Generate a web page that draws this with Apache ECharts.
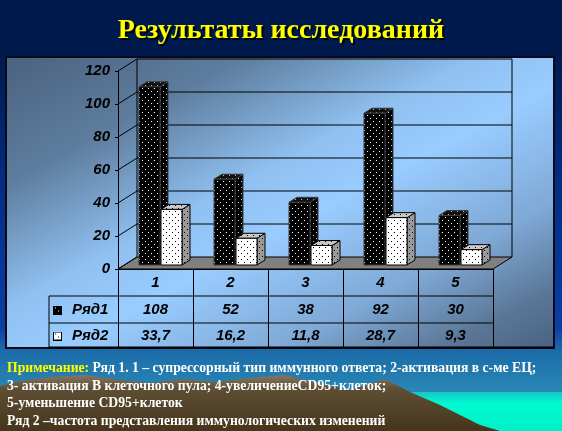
<!DOCTYPE html>
<html><head><meta charset="utf-8">
<script src="https://cdn.jsdelivr.net/npm/echarts@6/dist/echarts.min.js"></script>
<style>html,body{margin:0;padding:0;background:#001a4e}#c{width:562px;height:431px}</style>
</head><body><div id="c"></div>
<script>
// ---- data ----
const TITLE = 'Результаты исследований';
const CATEGORIES = ['1', '2', '3', '4', '5'];
const SERIES_NAMES = ['Ряд1', 'Ряд2'];
const SERIES1 = [108, 52, 38, 92, 30];
const SERIES2 = [33.7, 16.2, 11.8, 28.7, 9.3];
const Y_TICKS = [0, 20, 40, 60, 80, 100, 120];
const NOTE_LABEL = 'Примечание:';
const NOTE_LINES = [
  ' Ряд 1. 1 – супрессорный тип иммунного ответа; 2-активация в с-ме ЕЦ;',
  '3- активация В клеточного пула; 4-увеличениеCD95+клеток;',
  '5-уменьшение CD95+клеток',
  'Ряд 2 –частота представления иммунологических изменений'
];

// ---- layout ----
const GX = 118, GY = 71, GW = 375, GH = 198, W = 562, H = 431;
const WALL_DX = 19, WALL_DY = 12;
const BAR_DX = 5, BAR_DY = 4, BAR_W = 21, BAR_GAP = 1, BDX = 8, BDY = 5;
const ROW_Y = [309.5, 335.5];
const FONT = 'italic bold 15px "Liberation Sans", Arial, sans-serif';
const NOTE_FONT = 'bold 13.7px "Liberation Serif", serif';

function pattern(bg, dot, size, pts) {
  const c = document.createElement('canvas');
  c.width = c.height = size;
  const g = c.getContext('2d');
  g.fillStyle = bg; g.fillRect(0, 0, size, size);
  g.fillStyle = dot;
  pts.forEach(p => g.fillRect(p[0], p[1], 1, 1));
  return { image: c, repeat: 'repeat' };
}
const PTS = [[1, 1], [4, 4]];
const STYLES = [
  { front: pattern('#000', '#fff', 6, PTS), side: pattern('#000', '#ddd', 6, PTS), top: pattern('#111', '#bbb', 6, PTS), stroke: '#3c3c3c' },
  { front: pattern('#fff', '#000', 6, PTS), side: pattern('#9a9a9a', '#000', 6, PTS), top: pattern('#c8c8c8', '#000', 6, PTS), stroke: '#000' }
];
function iconURL(bg, dot) {
  const c = document.createElement('canvas'); c.width = c.height = 9;
  const g = c.getContext('2d');
  g.fillStyle = '#000'; g.fillRect(0, 0, 9, 9);
  g.fillStyle = bg; g.fillRect(1, 1, 7, 7);
  g.fillStyle = dot; g.fillRect(5, 5, 1, 1); g.fillRect(2, 2, 1, 1);
  return 'image://' + c.toDataURL();
}
const ICONS = [iconURL('#000', '#fff'), iconURL('#fff', '#000')];
const fmt = v => String(v).replace('.', ',');

function makeBarRender(k) {
  return function (params, api) {
    const i = api.value(0), v = api.value(1);
    const base = api.coord([i, 0]), top = api.coord([i, v]);
    const cx = base[0] + BAR_DX, by = base[1] - BAR_DY, ty = top[1] - BAR_DY;
    const x0 = k === 0 ? cx - BAR_W - BAR_GAP / 2 : cx + BAR_GAP / 2;
    const x1 = x0 + BAR_W;
    const st = STYLES[k];
    return {
      type: 'group',
      children: [
        { type: 'polygon', shape: { points: [[x1, by], [x1, ty], [x1 + BDX, ty - BDY], [x1 + BDX, by - BDY]] }, style: { fill: st.side, stroke: st.stroke, lineWidth: 1 } },
        { type: 'polygon', shape: { points: [[x0, ty], [x0 + BDX, ty - BDY], [x1 + BDX, ty - BDY], [x1, ty]] }, style: { fill: st.top, stroke: st.stroke, lineWidth: 1 } },
        { type: 'rect', shape: { x: x0, y: ty, width: BAR_W, height: by - ty }, style: { fill: st.front, stroke: st.stroke, lineWidth: 1 } },
        { type: 'text', style: { text: fmt(v), x: base[0], y: ROW_Y[k], align: 'center', verticalAlign: 'middle', font: FONT, fill: '#000' } }
      ]
    };
  };
}

function renderFrame(params, api) {
  const t = api.value(1), cs = params.coordSys;
  const y = api.coord([0, t])[1];
  const gx = cs.x, gr = cs.x + cs.width;
  const ls = { stroke: '#000', lineWidth: 1 };
  const ch = [];
  if (t === Y_TICKS[0]) {
    ch.push({ type: 'polygon', shape: { points: [[gx, y], [gr, y], [gr + WALL_DX, y - WALL_DY], [gx + WALL_DX, y - WALL_DY]] }, style: { fill: '#808080', stroke: '#000', lineWidth: 1 } });
  } else {
    ch.push({ type: 'line', shape: { x1: gx + WALL_DX, y1: y - WALL_DY, x2: gr + WALL_DX, y2: y - WALL_DY }, style: ls });
  }
  ch.push({ type: 'line', shape: { x1: gx, y1: y, x2: gx + WALL_DX, y2: y - WALL_DY }, style: ls });
  if (t === Y_TICKS[Y_TICKS.length - 1]) {
    const y0 = api.coord([0, Y_TICKS[0]])[1] - WALL_DY;
    ch.push({ type: 'line', shape: { x1: gx + WALL_DX, y1: y - WALL_DY, x2: gx + WALL_DX, y2: y0 }, style: ls });
    ch.push({ type: 'line', shape: { x1: gr + WALL_DX, y1: y - WALL_DY, x2: gr + WALL_DX, y2: y0 }, style: ls });
  }
  return { type: 'group', children: ch };
}

const LG = echarts.graphic.LinearGradient;
const bgGrad = new LG(0, 0, 0, 1, [
  { offset: 0, color: '#001a4e' }, { offset: 0.13, color: '#001a4e' },
  { offset: 0.4, color: '#032c80' }, { offset: 0.76, color: '#0b3ea6' },
  { offset: 0.81, color: '#1b6aa8' }, { offset: 0.92, color: '#2a8cb6' }, { offset: 1, color: '#2f98bc' }
]);
const seaGrad = new LG(0, 0, 0, 1, [
  { offset: 0, color: '#14c6c8' }, { offset: 0.3, color: '#00fbd0' }, { offset: 1, color: '#00f0c8' }
]);
const mountGrad = new LG(0, 0, 0, 1, [
  { offset: 0, color: '#867660' }, { offset: 0.25, color: '#5e4e34' }, { offset: 1, color: '#45351c' }
]);
const boxGrad = new LG(159, -25, 400, 430, [
  { offset: 0, color: '#4a627e' }, { offset: 0.22, color: '#5e7d9e' },
  { offset: 0.43, color: '#8fc0f0' }, { offset: 0.55, color: '#99ccff' },
  { offset: 0.75, color: '#7fa9d6' }, { offset: 0.9, color: '#5a7696' }, { offset: 1, color: '#4a6282' }
], true);
const MOUNTAIN = [[0, 386], [20, 381], [50, 377], [85, 375], [120, 380], [150, 383], [185, 379], [215, 382], [250, 378], [285, 375], [320, 384], [350, 390], [385, 379], [410, 392], [440, 405], [480, 425], [500, 431], [0, 431]];
const tl = { stroke: '#000', lineWidth: 1 };

const chart = echarts.init(document.getElementById('c'));
chart.setOption({
  animation: false,
  title: {
    text: TITLE, left: 'center', top: 12,
    textStyle: { color: '#ffff00', fontFamily: '"Liberation Serif", serif', fontWeight: 'bold', fontSize: 28, textShadowColor: '#000', textShadowOffsetX: 2, textShadowOffsetY: 2, textShadowBlur: 1 }
  },
  legend: {
    orient: 'vertical', left: 53, top: 302, padding: 0, itemWidth: 9, itemHeight: 9, itemGap: 10, selectedMode: false,
    data: SERIES_NAMES.map((n, k) => ({ name: n, icon: ICONS[k] })),
    textStyle: { fontFamily: '"Liberation Sans", Arial, sans-serif', fontSize: 15, fontWeight: 'bold', fontStyle: 'italic', color: '#000', lineHeight: 16, padding: [0, 0, 0, 5] }
  },
  grid: { left: GX, top: GY, width: GW, height: GH, containLabel: false },
  xAxis: {
    type: 'category', data: CATEGORIES,
    axisLine: { show: true, lineStyle: { color: '#000', width: 1 } },
    axisTick: { show: true, length: 79, lineStyle: { color: '#000', width: 1 } },
    axisLabel: { margin: 6, color: '#000', fontFamily: '"Liberation Sans", Arial, sans-serif', fontSize: 15, fontWeight: 'bold', fontStyle: 'italic' },
    splitLine: { show: false }
  },
  yAxis: {
    type: 'value', min: 0, max: 120, interval: 20,
    axisLine: { show: true, lineStyle: { color: '#000', width: 1 } },
    axisTick: { show: true, length: 3, lineStyle: { color: '#000' } },
    axisLabel: { margin: 8, color: '#000', fontFamily: '"Liberation Sans", Arial, sans-serif', fontSize: 15, fontWeight: 'bold', fontStyle: 'italic' },
    splitLine: { show: false }
  },
  series: [
    { type: 'custom', name: 'frame', z: 1, silent: true, renderItem: renderFrame, encode: { x: 0, y: 1 }, data: Y_TICKS.map(t => [0, t]) },
    { type: 'custom', name: SERIES_NAMES[0], z: 2, renderItem: makeBarRender(0), encode: { x: 0, y: 1 }, itemStyle: { color: '#000' }, data: SERIES1.map((v, i) => [i, v]) },
    { type: 'custom', name: SERIES_NAMES[1], z: 3, renderItem: makeBarRender(1), encode: { x: 0, y: 1 }, itemStyle: { color: '#fff' }, data: SERIES2.map((v, i) => [i, v]) }
  ],
  graphic: [
    { type: 'rect', z: -10, silent: true, shape: { x: 0, y: 0, width: W, height: H }, style: { fill: bgGrad } },
    { type: 'rect', z: -9, silent: true, shape: { x: 390, y: 392, width: W - 390, height: H - 392 }, style: { fill: seaGrad } },
    { type: 'polygon', z: -8, silent: true, shape: { points: MOUNTAIN }, style: { fill: mountGrad } },
    { type: 'rect', z: -5, silent: true, shape: { x: 6, y: 57, width: 548, height: 291 }, style: { fill: boxGrad, stroke: '#0a0a1e', lineWidth: 2 } },
    { type: 'line', z: 5, silent: true, shape: { x1: 49, y1: 296, x2: GX + GW, y2: 296 }, style: tl },
    { type: 'line', z: 5, silent: true, shape: { x1: 49, y1: 323, x2: GX + GW, y2: 323 }, style: tl },
    { type: 'line', z: 5, silent: true, shape: { x1: 49, y1: 296, x2: 49, y2: 348 }, style: tl },
    { type: 'line', z: 5, silent: true, shape: { x1: 49, y1: 347.5, x2: 554, y2: 347.5 }, style: { stroke: '#000', lineWidth: 2 } },
    {
      type: 'text', z: 6, silent: true, x: 7, y: 360,
      style: {
        text: '{y|' + NOTE_LABEL + '}' + NOTE_LINES.join('\n'),
        font: NOTE_FONT, fill: '#ffffff', lineHeight: 17.5,
        textShadowColor: 'rgba(0,0,0,0.55)', textShadowOffsetX: 1, textShadowOffsetY: 1,
        rich: { y: { fill: '#ffff00', font: NOTE_FONT, lineHeight: 17.5 } }
      }
    }
  ]
});
</script></body></html>
